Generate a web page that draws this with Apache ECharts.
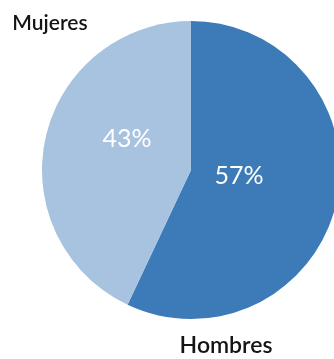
<!DOCTYPE html>
<html><head><meta charset="utf-8">
<script src="https://cdn.jsdelivr.net/npm/echarts@6/dist/echarts.min.js"></script>
<style>html,body{margin:0;padding:0;background:#fff}#c{width:334px;height:359px}</style>
</head><body><div id="c"></div>
<script>
const categories = ['Hombres', 'Mujeres'];
const values = [57, 43];
const colors = ['#3d7bb8', '#a8c3df'];
const pctLabelPos = [[239, 176], [127, 139]];
const nameLabelPos = [[226, 346], [50, 23]];
const nameFontSize = [23, 21];

const chart = echarts.init(document.getElementById('c'), null, {renderer: 'canvas'});
chart.setOption({
  animation: false,
  backgroundColor: '#fff',
  graphic: categories.map((c, i) => ({
    type: 'text',
    x: nameLabelPos[i][0], y: nameLabelPos[i][1],
    style: {text: c, fill: '#141414', font: '600 ' + nameFontSize[i] + 'px Lato, "Open Sans", sans-serif', textAlign: 'center', textVerticalAlign: 'middle'}
  })),
  series: [{
    type: 'pie',
    center: [191, 170],
    radius: 149,
    startAngle: 90,
    clockwise: true,
    silent: true,
    data: categories.map((c, i) => ({name: c, value: values[i], itemStyle: {color: colors[i]}})),
    label: {
      show: true, position: 'inside',
      formatter: p => p.value + '%',
      color: '#fff', fontSize: 25, fontFamily: 'Lato, "Open Sans", sans-serif'
    },
    labelLayout: p => ({x: pctLabelPos[p.dataIndex][0], y: pctLabelPos[p.dataIndex][1], align: 'center', verticalAlign: 'middle'}),
    labelLine: {show: false}
  }]
});
</script></body></html>
